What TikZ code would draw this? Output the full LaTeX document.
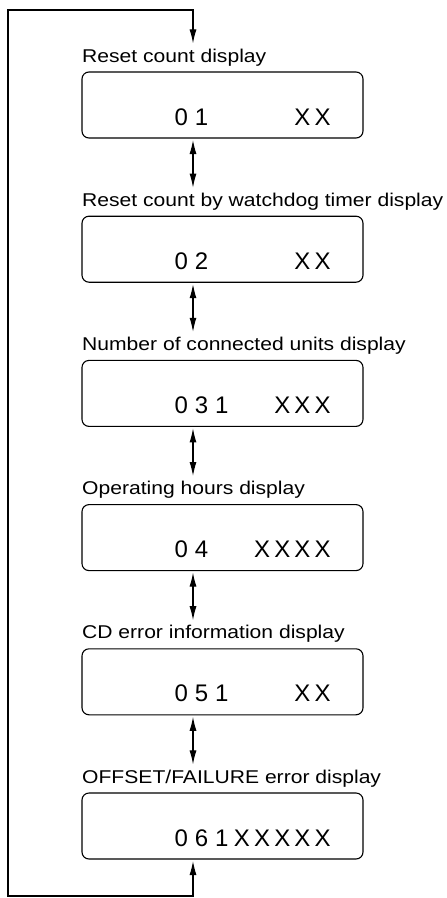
\documentclass[tikz,border=0pt]{standalone}
\usepackage{fontspec}
\setmainfont{Liberation Sans}
\newfontfamily\labelfont[FakeStretch=1.14]{Liberation Sans}
\newfontfamily\lcdfont{Liberation Sans}
\usetikzlibrary{positioning,arrows.meta}

% one fixed cell per display character, ~ gives an empty cell
\newcommand\lcd[1]{\lcdcell#1\relax}
\newcommand\lcdcell[1]{\ifx\relax#1\else\hbox to 20.2pt{\hss#1\hss}\expandafter\lcdcell\fi}

\tikzset{
  dispbox/.style={draw,line width=1.1pt,rounded corners=7pt,minimum width=281pt,minimum height=66pt,inner sep=0pt,outer sep=0pt},
  caption/.style={anchor=base west,inner sep=0pt,font=\labelfont\fontsize{18.5pt}{20pt}\selectfont},
  readout/.style={anchor=base west,inner sep=0pt,font=\lcdfont\fontsize{24pt}{26pt}\selectfont},
  updown/.style={line width=1.1pt,{Latex[length=14pt,width=7pt]}-{Latex[length=14pt,width=7pt]},shorten <=2pt,shorten >=5pt}
}

\begin{document}
\begin{tikzpicture}[x=1pt,y=-1pt,node distance=78.2pt]
\useasboundingbox (0,0) rectangle (447,898);

\node[dispbox] (b1) at (222.5,105) {};
\node[dispbox,below=of b1] (b2) {};
\node[dispbox,below=of b2] (b3) {};
\node[dispbox,below=of b3] (b4) {};
\node[dispbox,below=of b4] (b5) {};
\node[dispbox,below=of b5] (b6) {};

\node[caption] (l1) at ([yshift=10pt]b1.north west) {Reset count display};
\node[caption] (l2) at ([yshift=10pt]b2.north west) {Reset count by watchdog timer display};
\node[caption] (l3) at ([yshift=10pt]b3.north west) {Number of connected units display};
\node[caption] (l4) at ([yshift=10pt]b4.north west) {Operating hours display};
\node[caption] (l5) at ([yshift=10pt]b5.north west) {CD error information display};
\node[caption] (l6) at ([yshift=10pt]b6.north west) {OFFSET/FAILURE error display};

\node[readout] (d1) at ([shift={(89pt,13pt)}]b1.south west) {\lcd{01~~~~XX}};
\node[readout] (d2) at ([shift={(89pt,13pt)}]b2.south west) {\lcd{02~~~~XX}};
\node[readout] (d3) at ([shift={(89pt,13pt)}]b3.south west) {\lcd{031~~XXX}};
\node[readout] (d4) at ([shift={(89pt,13pt)}]b4.south west) {\lcd{04~~XXXX}};
\node[readout] (d5) at ([shift={(89pt,13pt)}]b5.south west) {\lcd{051~~~XX}};
\node[readout] (d6) at ([shift={(89pt,13pt)}]b6.south west) {\lcd{061XXXXX}};

% arrow column and the return loop
\coordinate (ax) at (193,10);
\coordinate (tl) at (8,10);
\coordinate (bl) at (8,896);

\draw[updown] (b1.south -| ax) -- (l2.north -| ax);
\draw[updown] (b2.south -| ax) -- (l3.north -| ax);
\draw[updown] (b3.south -| ax) -- (l4.north -| ax);
\draw[updown] (b4.south -| ax) -- (l5.north -| ax);
\draw[updown] (b5.south -| ax) -- (l6.north -| ax);
\draw[updown] (b6.south -| ax) -- (bl -| ax) -- (bl) -- (tl) -- (ax) -- (l1.north -| ax);
\end{tikzpicture}
\end{document}
